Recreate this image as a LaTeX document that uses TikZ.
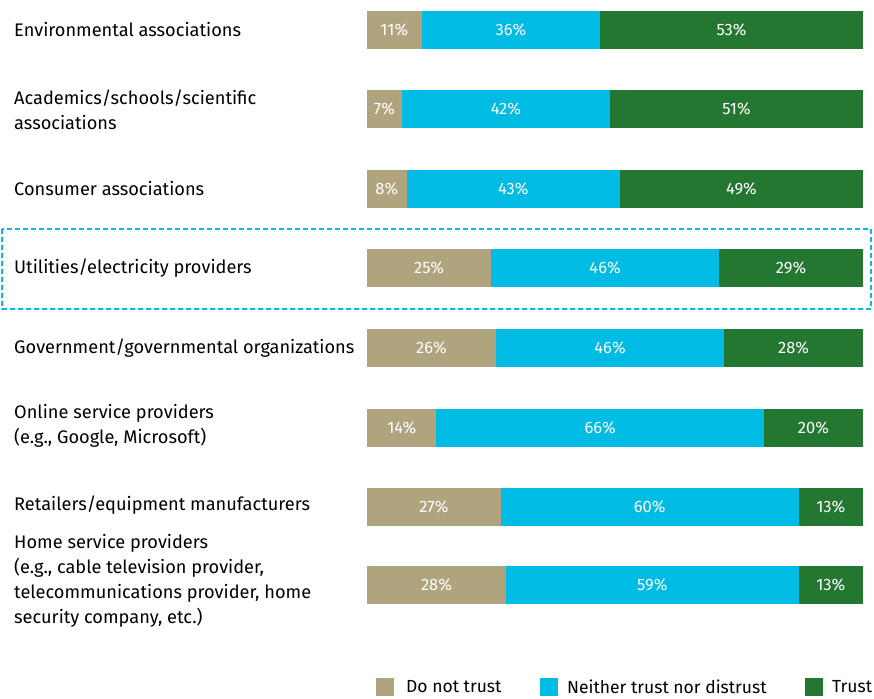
\documentclass[tikz,border=0pt]{standalone}
\usepackage{fontspec}
\setmainfont{Fira Sans}
\usetikzlibrary{
  positioning,
}
\definecolor{distrusttan}{RGB}{176, 164, 126}
\definecolor{neithercyan}{RGB}{0, 187, 228}
\definecolor{trustgreen}{RGB}{35, 119, 48}
\tikzstyle{category} = [
  anchor=west,
  align=left,
  inner sep=0pt,
  font=\fontsize{18.2}{25}\selectfont,
  text=black,
]
\tikzstyle{segment} = [
  anchor=west,
  inner sep=0pt,
  outer sep=0pt,
  minimum height=38pt,
  text=white,
  font=\fontsize{16.5}{18}\selectfont,
]
\tikzstyle{swatch} = [
  minimum size=17.5pt,
  inner sep=0pt,
]
\tikzstyle{legendtext} = [
  anchor=west,
  inner sep=0pt,
  font=\fontsize{17.5}{20}\selectfont,
]
\newcommand{\trustbar}[5]{%
  \node [segment, fill=distrusttan, minimum width=#3*4.96pt] (#1-a) at (367, #2) {#3\%};
  \node [segment, fill=neithercyan, minimum width=#4*4.96pt] (#1-b) at (#1-a.east) {#4\%};
  \node [segment, fill=trustgreen, minimum width=#5*4.96pt] (#1-c) at (#1-b.east) {#5\%};
}

\begin{document}
\begin{tikzpicture}[x=1pt, y=-1pt]

        \useasboundingbox (0,0) rectangle (874,698);

        \node [category] (environ) at (14, 30) {Environmental associations};
        \node [category] (academ) at (14, 110) {Academics/schools/scientific\\associations};
        \node [category] (consumer) at (14, 189) {Consumer associations};
        \node [category] (utility) at (14, 268) {Utilities/electricity providers};
        \node [category] (govern) at (14, 348) {Government/governmental organizations};
        \node [category] (online) at (14, 426) {Online service providers\\(e.g., Google, Microsoft)};
        \node [category] (retail) at (14, 505) {Retailers/equipment manufacturers};
        \node [category] (home) at (14, 581) {Home service providers\\(e.g., cable television provider,\\telecommunications provider, home\\security company, etc.)};

        \trustbar{environ-bar}{30}{11}{36}{53}
        \trustbar{academ-bar}{109}{7}{42}{51}
        \trustbar{consumer-bar}{189}{8}{43}{49}
        \trustbar{utility-bar}{268}{25}{46}{29}
        \trustbar{govern-bar}{348}{26}{46}{28}
        \trustbar{online-bar}{428}{14}{66}{20}
        \trustbar{retail-bar}{507}{27}{60}{13}
        \trustbar{home-bar}{585}{28}{59}{13}

        \draw [neithercyan, line width=2pt, dash pattern=on 5pt off 3pt]
              (2,229) rectangle (871,309);

        \node [swatch, fill=distrusttan] (key-a) at (385, 687) {};
        \node [legendtext, right=12pt of key-a] (key-a-text) {Do not trust};
        \node [swatch, fill=neithercyan] (key-b) at (549, 687) {};
        \node [legendtext, right=9pt of key-b] (key-b-text) {Neither trust nor distrust};
        \node [swatch, fill=trustgreen] (key-c) at (814, 687) {};
        \node [legendtext, right=9pt of key-c] (key-c-text) {Trust};

\end{tikzpicture}
\end{document}
